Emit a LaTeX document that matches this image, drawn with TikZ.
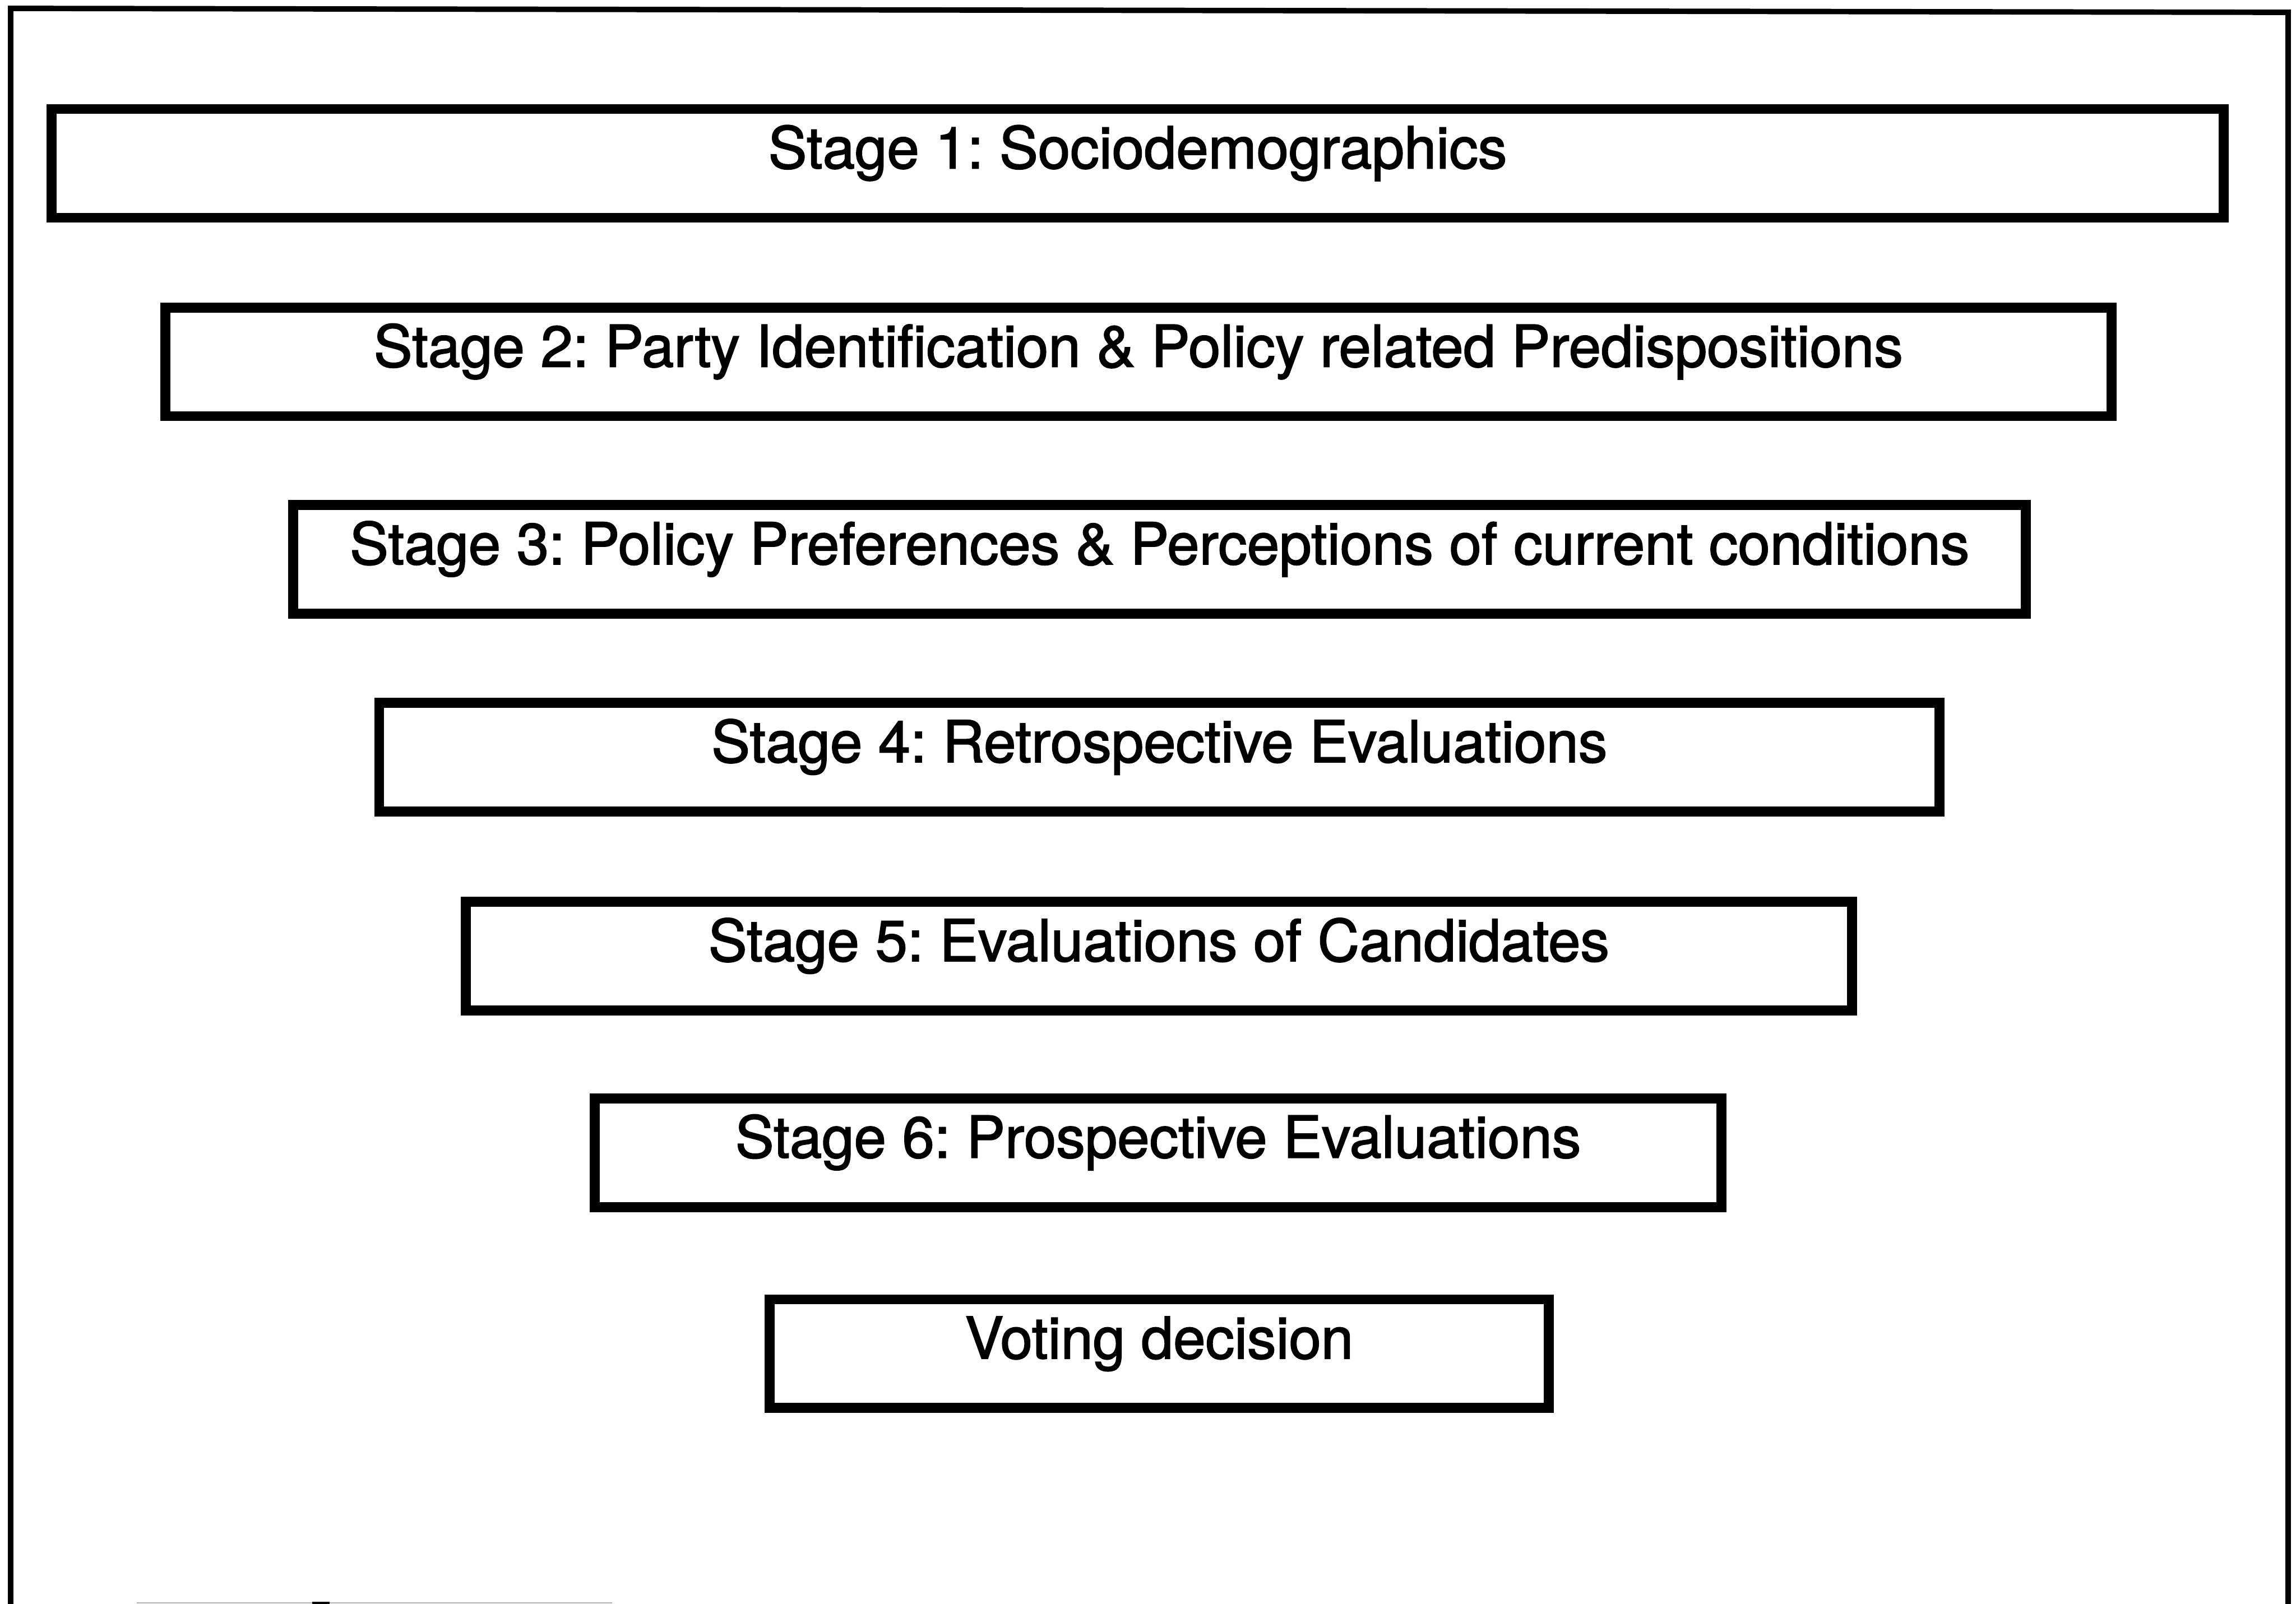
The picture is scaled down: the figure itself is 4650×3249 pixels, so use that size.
\documentclass[tikz,border=0pt]{standalone}
\usepackage{fontspec}
\newfontfamily\stagefont{TeX Gyre Heros}[FakeBold=1.8]
\begin{document}
\begin{tikzpicture}[x=0.01cm, y=-0.01cm,
    stagebox/.style={draw=black, line width=0.2cm, rectangle, inner sep=0pt, outer sep=0pt,
      minimum height=2.2cm, text height=0.9cm, text depth=0.7cm,
      font=\stagefont\frenchspacing\fontsize{33.3}{40}\selectfont},
    frameline/.style={draw=black, line width=0.11cm}]
  % page extent
  \useasboundingbox (0,0) rectangle (4650,3249);
  \fill[white] (0,0) rectangle (4650,3249);

  % outer frame, open at the foot of the page
  \coordinate (fbl) at (21.5,3270);
  \coordinate (ftl) at (21.5,17);
  \coordinate (ftr) at (4634,25);
  \coordinate (fbr) at (4634,3270);
  \begin{scope}
    \clip (0,0) rectangle (4650,3249);
    \draw[frameline] (fbl) -- (ftl) -- (ftr) -- (fbr);
  \end{scope}

  % the stages, narrowing towards the decision
  \node[stagebox, minimum width=43.96cm] (s1) at (2304,331)
    {Stage 1: Sociodemographics};
  \node[stagebox, minimum width=39.39cm] (s2) at (2305.5,733)
    {Stage 2: Party Identification \& Policy related Predispositions};
  \node[stagebox, minimum width=35.07cm] (s3) at (2348.5,1133)
    {Stage 3: Policy Preferences \& Perceptions of current conditions};
  \node[stagebox, minimum width=31.58cm] (s4) at (2348,1534)
    {Stage 4: Retrospective Evaluations};
  \node[stagebox, minimum width=28.06cm] (s5) at (2347,1937)
    {Stage 5: Evaluations of Candidates};
  \node[stagebox, minimum width=22.81cm] (s6) at (2345.5,2335)
    {Stage 6: Prospective Evaluations};
  \node[stagebox, minimum width=15.77cm] (vote) at (2347.5,2742)
    {Voting decision};

  % cut-off rule along the lower edge
  \coordinate (rl) at (277,3247);
  \coordinate (rr) at (1240,3247);
  \draw[black!30, line width=0.03cm] (rl) -- (rr);
  \fill[black] (632,3244) rectangle (667,3249);
\end{tikzpicture}
\end{document}
